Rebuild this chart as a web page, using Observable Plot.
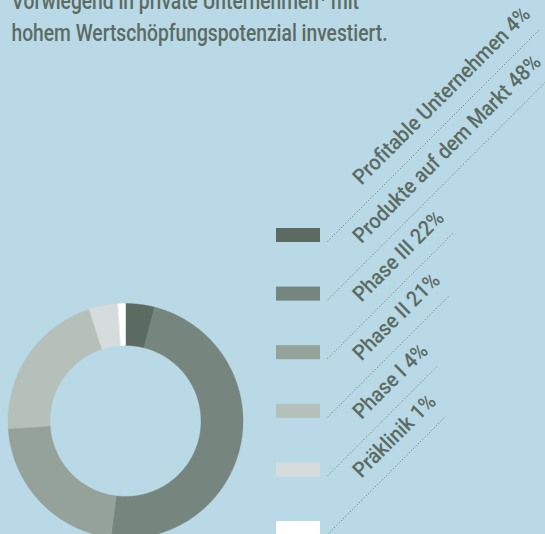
<!DOCTYPE html>
<html><head><meta charset="utf-8">
<script src="https://cdn.jsdelivr.net/npm/d3@7"></script>
<script src="https://cdn.jsdelivr.net/npm/@observablehq/plot@0.6"></script>
<style>
html,body{margin:0;padding:0;background:#b9d9e6;width:545px;height:534px;overflow:hidden}
#wrap{width:545px;height:534px}
svg{display:block}
</style></head><body><div id="wrap"></div>
<script>
// ---- data ----
const categories = ["Profitable Unternehmen","Produkte auf dem Markt","Phase III","Phase II","Phase I","Präklinik"];
const shares = [4, 48, 22, 21, 4, 1];
const colors = ["#5b6b62","#76857d","#95a29a","#b5c0ba","#d6dcdb","#ffffff"];
const headerLines = ["Vorwiegend in private Unternehmen¹ mit","hohem Wertschöpfungspotenzial investiert."];

// ---- layout / style ----
const W = 545, H = 534;
const cx = 125, cy = 420.5, R = 117.5, R0 = 75.5;
const textColor = "#5c6b64", lineColor = "#65746d";
const font = "Roboto", weight = 500;
const headerSize = 23.5, labelSize = 21.5;
const sw = {x1: 276, x2: 320, top0: 228, step: 58.6, h: 14};
const lineX0 = 327, textAlong = 63.5, textOff = 15.5, s2 = Math.SQRT1_2;

const ctx = document.createElement("canvas").getContext("2d");
function measure(t, size){ ctx.font = `${weight} ${size}px ${font}`; return ctx.measureText(t).width; }
const kH = 376 / measure(headerLines[1], headerSize); // condensed look
const kL = kH * 1.12;

const arcs = d3.pie().sort(null).value(d => d)(shares);
const slices = categories.map((c, i) => ({cat: c, color: colors[i], a0: arcs[i].startAngle, a1: arcs[i].endAngle}));
function ring(s){
  const pts = [], n = Math.max(6, Math.ceil((s.a1 - s.a0) / 0.004));
  for (let j = 0; j <= n; j++){ const a = s.a0 + (s.a1 - s.a0) * j / n; pts.push({x: cx + R * Math.sin(a), y: cy - R * Math.cos(a)}); }
  for (let j = n; j >= 0; j--){ const a = s.a0 + (s.a1 - s.a0) * j / n; pts.push({x: cx + R0 * Math.sin(a), y: cy - R0 * Math.cos(a)}); }
  return pts;
}

const legend = categories.map((c, i) => {
  const label = `${c} ${shares[i]}%`;
  const top = sw.top0 + i * sw.step;
  const len = textAlong + measure(label, labelSize) * kL - 4;
  return {label, color: colors[i], top, y0: top + 13, len};
});

const plot = Plot.plot({
  width: W, height: H, margin: 0,
  x: {domain: [0, W], range: [0, W], axis: null},
  y: {domain: [0, H], range: [0, H], axis: null},
  color: {type: "identity"},
  style: {background: "transparent", overflow: "visible"},
  marks: [
    ...slices.map(s => Plot.line(ring(s), {x: "x", y: "y", fill: s.color, stroke: s.color, strokeWidth: 0.4, curve: "linear-closed"})),
    Plot.rect(legend, {x1: () => sw.x1, x2: () => sw.x2, y1: "top", y2: d => d.top + sw.h, fill: "color"}),
    Plot.link(legend, {x1: () => lineX0, y1: "y0", x2: d => lineX0 + d.len * s2, y2: d => d.y0 - d.len * s2,
      stroke: lineColor, strokeWidth: 1, strokeDasharray: "1,2.2"}),
    Plot.text(legend, {x: d => lineX0 + (textAlong - textOff) * s2, y: d => d.y0 - (textAlong + textOff) * s2,
      text: "label", rotate: -45, textAnchor: "start", lineAnchor: "bottom",
      fontSize: labelSize, fontFamily: font, fontWeight: weight, fill: textColor, className: "lbl"}),
    Plot.text(headerLines, {x: () => 11, y: (d, i) => 8.5 + i * 32.2, text: d => d, textAnchor: "start", lineAnchor: "bottom",
      fontSize: headerSize, fontFamily: font, fontWeight: weight, fill: textColor, className: "hdr"})
  ]
});
document.getElementById("wrap").appendChild(plot);
plot.querySelectorAll("g.lbl text, g.hdr text").forEach(t => {
  const kk = t.closest("g.lbl") ? kL : kH;
  const L = t.getComputedTextLength();
  if (L > 0){ t.setAttribute("textLength", L * kk); t.setAttribute("lengthAdjust", "spacingAndGlyphs"); }
});
</script></body></html>
